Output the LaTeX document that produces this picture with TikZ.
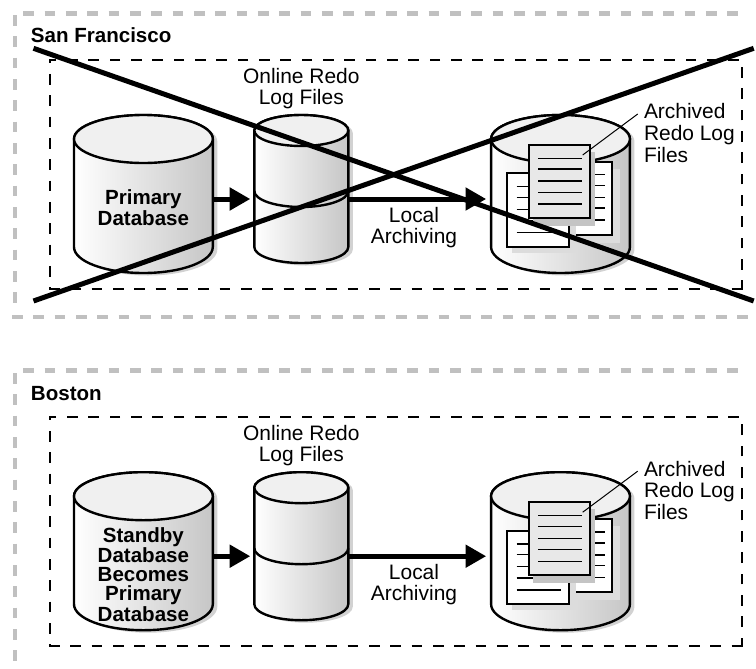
\documentclass[tikz,border=0pt]{standalone}
\usepackage{fontspec}
\setmainfont{Liberation Sans}
\usetikzlibrary{arrows.meta}
\definecolor{framegray}{HTML}{C0C0C0}
\definecolor{lidgray}{HTML}{F0F0F0}
\definecolor{sidegray}{HTML}{C6C6C6}
\definecolor{shadowgray}{HTML}{D2D2D2}
\definecolor{pageshadow}{HTML}{C4C4C4}
\definecolor{softshadow}{HTML}{DCDCDC}
\definecolor{pagegray}{HTML}{E8E8E8}
\tikzset{
  x=0.75pt,y=-0.75pt,
  frameline/.style={draw=framegray,line width=3.5pt,dash pattern=on 8pt off 8pt},
  sitebox/.style={draw=black,line width=1.9pt,dash pattern=on 8pt off 8pt,dash phase=#1},
  cylline/.style={draw=black,line width=1.8pt},
  txt/.style={font=\fontsize{15.7}{16.2}\selectfont,align=center,inner sep=0pt,outer sep=0pt},
  boldtxt/.style={font=\fontsize{15.4}{16.2}\selectfont\bfseries,align=center,inner sep=0pt,outer sep=0pt},
  tighttxt/.style={font=\fontsize{15.4}{14.3}\selectfont\bfseries,align=center,inner sep=0pt,outer sep=0pt},
  sitetxt/.style={font=\fontsize{15.4}{16.2}\selectfont\bfseries,anchor=west,inner sep=0pt,outer sep=0pt},
  anchorbox/.style={inner sep=0pt,outer sep=0pt,minimum width=#1},
  flow/.style={line width=3.75pt,-{Triangle[length=15.5pt,width=16.5pt]}},
  cross/.style={line width=3.75pt,line cap=butt},
  page/.style={draw=black,line width=1.5pt},
  pageline/.style={draw=black,line width=0.9pt},
  leader/.style={draw=black,line width=0.75pt},
}
% cx, x radius, y of lid centre, y of lower arc centre, lid y radius, lower y radius
\newcommand{\drumbody}[6]{%
  \fill[shadowgray,shift={(4.5,2.5)}]
    (#1-#2,#3) -- (#1-#2,#4) arc[start angle=180,end angle=360,x radius=#2*0.75pt,y radius=#6*0.75pt]
    -- (#1+#2,#3) arc[start angle=0,end angle=180,x radius=#2*0.75pt,y radius=#5*0.75pt] -- cycle;
  \path[cylline,left color=white,middle color=white,right color=sidegray]
    (#1-#2,#3) -- (#1-#2,#4) arc[start angle=180,end angle=360,x radius=#2*0.75pt,y radius=#6*0.75pt]
    -- (#1+#2,#3) arc[start angle=0,end angle=180,x radius=#2*0.75pt,y radius=#5*0.75pt] -- cycle;
  \path[cylline,fill=lidgray] (#1,#3) ellipse[x radius=#2*0.75pt,y radius=#5*0.75pt];
}
\newcommand{\panel}[1]{%
  % cylinders
  \drumbody{143.4}{69.4}{139}{247}{24}{26}
  \drumbody{301.3}{47}{130.5}{247}{15.5}{16}
  \draw[cylline] (254.3,191) arc[start angle=180,end angle=360,x radius=35.25pt,y radius=12pt];
  \drumbody{560.5}{69.4}{139}{247}{24}{26}
  % pages
  \fill[softshadow] (559,169) rectangle (620,243);
  \path[page,fill=white] (551,162) rectangle (612,235);
  \foreach \yy in {174.7,185.7,197.7,208,220} \draw[pageline] (561,\yy) -- (605,\yy);
  \fill[softshadow] (512,180) rectangle (576,253);
  \path[page,fill=white] (507,173.3) rectangle (568.7,246.7);
  \foreach \yy in {186.7,197.3,209.3,220.7,232.7} \draw[pageline] (516.7,\yy) -- (560.7,\yy);
  \fill[pageshadow] (533,152) rectangle (595,225.5);
  \path[page,fill=pagegray] (528.7,145) rectangle (590,218);
  \foreach \yy in {158.3,169,181,192.3,204} \draw[pageline] (538,\yy) -- (582,\yy);
  % invisible connection regions
  \node[anchorbox=104pt] (#1prim) at (143.4,199) {};
  \node[anchorbox=70.5pt] (#1log) at (301.3,199) {};
  \node[anchorbox=104pt] (#1arch) at (560.5,199) {};
  \coordinate (#1leadfrom) at (582.7,155);
  \coordinate (#1leadto) at (637.7,114);
  \draw[leader] (#1leadfrom) -- (#1leadto);
  \draw[flow,shorten >=3pt] (#1prim.east) -- (#1log.west);
  \draw[flow,shorten >=3.75pt] (#1log.east) -- (#1arch.west);
  % labels
  \node[txt] (#1online) at (301.3,88.5) {Online Redo\\Log Files};
  \node[txt] (#1local) at (414,227.5) {Local\\Archiving};
  \node[txt,align=left,anchor=west] (#1files) at (644,133) {Archived\\Redo Log\\Files};
  % dashed site box, side by side so that each corner keeps its own dash
  \draw[sitebox=0pt] (49,289) -- (743.2,289);
  \draw[sitebox=1pt] (742.2,289.8) -- (742.2,60);
  \draw[sitebox=13.5pt] (742.2,60) -- (49,60);
  \draw[sitebox=5pt] (49.8,59.2) -- (49.8,289);
}
\begin{document}
\begin{tikzpicture}
\useasboundingbox (0,0) rectangle (756,668);
\fill[white] (0,0) rectangle (756,668);
% San Francisco
\draw[frameline] (15,15) -- (15,304);
\draw[frameline] (23.3,13.3) -- (738,13.3);
\draw[frameline] (12,317) -- (749,317);
\panel{a}
\node[sitetxt] (sfname) at (31,35) {San Francisco};
\node[boldtxt] (sfprim) at (143.4,207.5) {Primary\\Database};
\coordinate (xa) at (33.5,48.3);
\coordinate (xb) at (753.7,301);
\coordinate (xc) at (33.5,301);
\coordinate (xd) at (753.7,48.3);
\draw[cross] (xa) -- (xb);
\draw[cross] (xc) -- (xd);
% Boston
\begin{scope}[shift={(0,357.2)}]
\draw[frameline] (15,15.8) -- (15,306);
\draw[frameline] (23.3,13.3) -- (738,13.3);
\panel{b}
\node[sitetxt] (bosname) at (31,36) {Boston};
\node[tighttxt] (bosprim) at (143.4,217) {Standby\\Database\\Becomes\\Primary\\Database};
\end{scope}
\end{tikzpicture}
\end{document}
